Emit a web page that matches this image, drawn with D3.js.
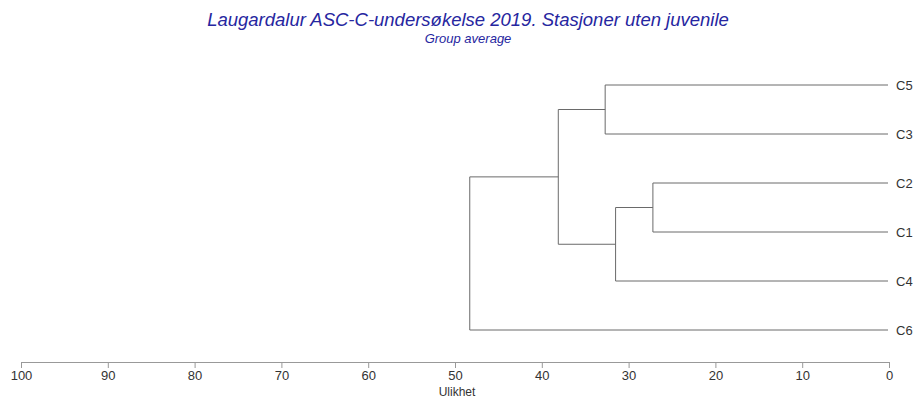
<!DOCTYPE html>
<html>
<head>
<meta charset="utf-8">
<script src="https://cdn.jsdelivr.net/npm/d3@7"></script>
<style>
  html, body { margin: 0; padding: 0; background: #fff; }
  svg { display: block; font-family: "Liberation Sans", Arial, sans-serif; }
</style>
</head>
<body>
<svg id="chart" width="916" height="398"></svg>
<script>
// Stations (leaves) in dendrogram order, top to bottom
const leafNames = ["C5", "C3", "C2", "C1", "C4", "C6"];
// Merge steps: node indices 0-5 are leaves, each merge creates node 6, 7, ...
const mergeLeft   = [0, 2, 7, 6, 9];
const mergeRight  = [1, 3, 4, 8, 5];
const mergeHeight = [32.7, 27.2, 31.5, 38.1, 48.3];
// Dissimilarity axis ticks
const tickValues = [100, 90, 80, 70, 60, 50, 40, 30, 20, 10, 0];

const titleText = "Laugardalur ASC-C-undersøkelse 2019. Stasjoner uten juvenile";
const subtitleText = "Group average";
const axisLabel = "Ulikhet";

const svg = d3.select("#chart");

const x = d3.scaleLinear().domain([100, 0]).range([21, 889]);
const y = d3.scalePoint().domain(leafNames).range([85, 330]);

// Build node positions
const nodes = leafNames.map(n => ({ name: n, h: 0, y: y(n) }));
mergeLeft.forEach((l, i) => {
  const a = nodes[l], b = nodes[mergeRight[i]];
  nodes.push({ h: mergeHeight[i], y: (a.y + b.y) / 2, children: [a, b] });
});

const lineColor = "#6a6a6a";
const g = svg.append("g")
  .attr("fill", "none")
  .attr("stroke", lineColor)
  .attr("stroke-width", 1);

nodes.filter(d => d.children).forEach(d => {
  const [a, b] = d.children;
  // vertical connector
  g.append("line")
    .attr("x1", x(d.h)).attr("x2", x(d.h))
    .attr("y1", a.y).attr("y2", b.y);
  // horizontal branches to children
  d.children.forEach(c => {
    g.append("line")
      .attr("x1", x(d.h)).attr("x2", x(c.h) - (c.children ? 0 : 1))
      .attr("y1", c.y).attr("y2", c.y);
  });
});

// Leaf labels
svg.append("g").selectAll("text")
  .data(leafNames)
  .join("text")
  .attr("x", 896)
  .attr("y", d => y(d))
  .attr("dy", "0.35em")
  .attr("font-size", 13)
  .attr("fill", "#333")
  .text(d => d);

// Axis
const axis = svg.append("g")
  .attr("transform", "translate(0,362)")
  .call(d3.axisBottom(x).tickValues(tickValues).tickSize(6).tickSizeOuter(0).tickPadding(3));
axis.select(".domain").attr("stroke", "#999");
axis.selectAll(".tick line").attr("stroke", "#999");
axis.selectAll(".tick text")
  .attr("font-size", 13)
  .attr("fill", "#333")
  .attr("font-family", "Liberation Sans, Arial, sans-serif");

svg.append("text")
  .attr("x", x(50) + 2)
  .attr("y", 396)
  .attr("text-anchor", "middle")
  .attr("font-size", 12)
  .attr("fill", "#333")
  .text(axisLabel);

// Titles
svg.append("text")
  .attr("x", 468)
  .attr("y", 26)
  .attr("text-anchor", "middle")
  .attr("font-size", 18.5)
  .attr("font-style", "italic")
  .attr("fill", "#2626a0")
  .text(titleText);

svg.append("text")
  .attr("x", 468)
  .attr("y", 43)
  .attr("text-anchor", "middle")
  .attr("font-size", 13)
  .attr("font-style", "italic")
  .attr("fill", "#2626a0")
  .text(subtitleText);
</script>
</body>
</html>
